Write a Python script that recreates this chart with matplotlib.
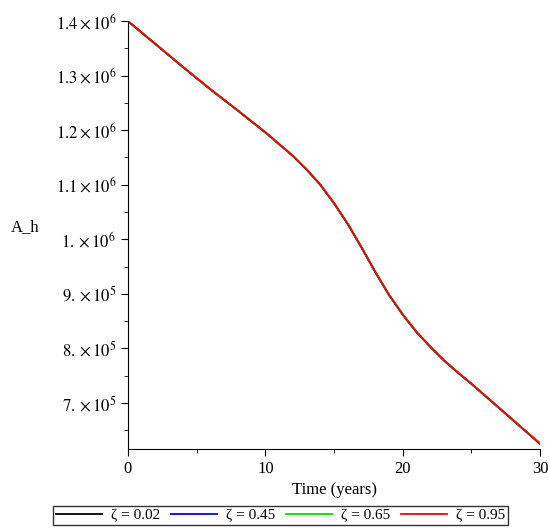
import matplotlib
matplotlib.use("Agg")
import matplotlib.pyplot as plt
from matplotlib.ticker import FixedLocator, MultipleLocator

plt.rcParams['font.family'] = ['Liberation Serif', 'DejaVu Serif']
plt.rcParams['mathtext.fontset'] = 'stix'

# values
time = [0, 2, 4, 6, 8, 10, 12, 13, 14, 15, 16, 17, 18, 19, 20, 21, 22, 23, 24, 25, 26, 27, 28, 29, 30]
a_h = [1.400e6, 1.358e6, 1.316e6, 1.275e6, 1.236e6, 1.196e6, 1.153e6, 1.128e6, 1.100e6, 1.066e6,
       1.028e6, 0.985e6, 0.940e6, 0.898e6, 0.862e6, 0.830e6, 0.803e6, 0.778e6, 0.756e6, 0.735e6,
       0.713e6, 0.691e6, 0.669e6, 0.647e6, 0.624e6]
a_h_end = [0.6255e6, 0.625e6, 0.6265e6, 0.624e6]  # tiny spread at t=30
zetas = ["0.02", "0.45", "0.65", "0.95"]
colors = ["black", "blue", "#00dd00", "red"]

fig = plt.figure(figsize=(5.49, 5.28), dpi=100)
ax = fig.add_axes([0.233, 0.15, 0.751, 0.81])

for z, c, end in zip(zetas, colors, a_h_end):
    ax.plot(time, a_h[:-1] + [end], color=c, linewidth=1.3, label=f"ζ = {z}")

ax.set_xlim(0, 30)
ax.set_ylim(6.16e5, 1.4e6)
ax.spines['top'].set_visible(False)
ax.spines['right'].set_visible(False)

yt = [7e5, 8e5, 9e5, 1.0e6, 1.1e6, 1.2e6, 1.3e6, 1.4e6]
ylabels = [r"$7.\times10^{5}$", r"$8.\times10^{5}$", r"$9.\times10^{5}$", r"$1.\times10^{6}$",
           r"$1.1\times10^{6}$", r"$1.2\times10^{6}$", r"$1.3\times10^{6}$", r"$1.4\times10^{6}$"]
ax.set_yticks(yt)
ax.set_yticklabels(ylabels, fontsize=12)
ax.yaxis.set_minor_locator(FixedLocator([6.5e5, 7.5e5, 8.5e5, 9.5e5, 1.05e6, 1.15e6, 1.25e6, 1.35e6]))
ax.set_xticks([0, 10, 20, 30])
ax.xaxis.set_minor_locator(MultipleLocator(5))
ax.tick_params(labelsize=12, length=5)
ax.tick_params(which='minor', length=3)

ax.set_xlabel("Time (years)", fontsize=12)
ax.set_ylabel("A_h", fontsize=12, rotation=0, labelpad=22)

ax.legend(loc='upper center', bbox_to_anchor=(0.37, -0.115), ncol=4, fontsize=11,
          frameon=True, fancybox=False, edgecolor='black', handlelength=3.0,
          columnspacing=0.7, handletextpad=0.6, borderpad=0.2)

fig.savefig("out.png", dpi=100)
